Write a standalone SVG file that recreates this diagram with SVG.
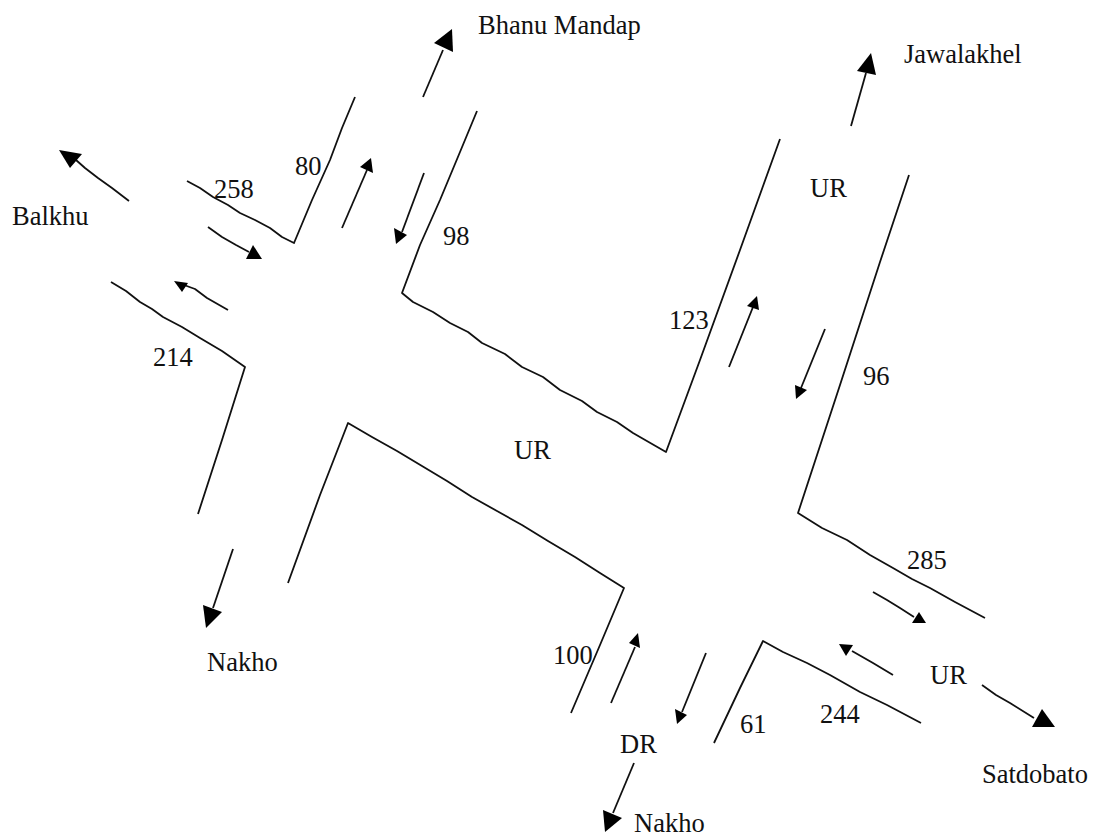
<svg xmlns="http://www.w3.org/2000/svg" width="1094" height="838" viewBox="0 0 1094 838">
<style>
.r{fill:none;stroke:#111;stroke-width:1.8;stroke-linejoin:round}
.a{fill:none;stroke:#111;stroke-width:1.8;stroke-linejoin:round}
.h{fill:#000}
text{font-family:"Liberation Serif","Times New Roman",serif;font-size:26.5px;fill:#111}
</style>
<rect width="1094" height="838" fill="#fff"/>
<g id="roads">
<path class="r" d="M187 181L200 188L213 197L228 205L240 213L255 220L270 228L282 237L294 243L312 200L330 160L342 128L355 97"/>
<path class="r" d="M477 111L460 152L440 200L420 245L402 293L413 302L433 312L450 323L468 332L482 343L505 354L522 367L543 377L560 390L582 401L597 412L617 422L633 433L666 452L700 360L740 250L780 139"/>
<path class="r" d="M909 175L880 262L840 385L798 513L822 528L847 540L870 555L893 568L912 579L930 588L955 602L985 618"/>
<path class="r" d="M111 282L126 291L140 302L152 309L163 317L182 327L200 338L222 351L245 367L222 440L198 514"/>
<path class="r" d="M288 583L320 495L348 423L372 437L397 451L422 466L447 481L472 497L497 511L522 525L548 541L575 557L600 573L624 588L600 645L571 713"/>
<path class="r" d="M714 743L740 688L763 641L783 652L807 663L830 675L860 692L887 705L921 723"/>
</g>
<g id="connectors">
<path class="a" d="M129 201L112 188L98 178L85 168L76 160"/><polygon class="h" points="59,150 82,154 70,168"/>
<path class="a" d="M208 227L222 237L236 245L249 252"/><polygon class="h" points="253,245 262,259 246,259"/>
<path class="a" d="M228 310L207 298L195 289L184 285"/><polygon class="h" points="174,281 188,283 182,292"/>
<path class="a" d="M342 228L367 170"/><polygon class="h" points="371,158 360,167 373,173"/>
<path class="a" d="M424 173L402 232"/><polygon class="h" points="394,228 407,235 396,244"/>
<path class="a" d="M423 97L443 50"/><polygon class="h" points="452,29 434,43 453,52"/>
<path class="a" d="M851 126L866 73"/><polygon class="h" points="871,53 857,71 876,75"/>
<path class="a" d="M729 367L753 307"/><polygon class="h" points="757,296 747,306 759,310"/>
<path class="a" d="M825 329L801 388"/><polygon class="h" points="795,385 807,390 796,399"/>
<path class="a" d="M233 549L213 608"/><polygon class="h" points="203,605 222,612 206,628"/>
<path class="a" d="M611 703L635 647"/><polygon class="h" points="638,633 629,643 640,648"/>
<path class="a" d="M706 653L682 712"/><polygon class="h" points="675,709 687,715 677,724"/>
<path class="a" d="M634 763L613 813"/><polygon class="h" points="603,810 622,818 605,832"/>
<path class="a" d="M873 592L887 600L900 608L914 617"/><polygon class="h" points="919,612 926,623 912,623"/>
<path class="a" d="M893 675L873 663L852 651"/><polygon class="h" points="839,644 853,645 846,656"/>
<path class="a" d="M982 685L996 695L1010 703L1034 718"/><polygon class="h" points="1042,709 1055,727 1032,727"/>
</g>
<g id="labels">
<text x="478" y="34">Bhanu Mandap</text>
<text x="904" y="63">Jawalakhel</text>
<text x="12" y="225">Balkhu</text>
<text x="207" y="671">Nakho</text>
<text x="634" y="832">Nakho</text>
<text x="982" y="783">Satdobato</text>
<text x="214" y="198">258</text>
<text x="295" y="175">80</text>
<text x="443" y="245">98</text>
<text x="153" y="366">214</text>
<text x="669" y="329">123</text>
<text x="863" y="385">96</text>
<text x="810" y="197">UR</text>
<text x="514" y="459">UR</text>
<text x="907" y="569">285</text>
<text x="930" y="684">UR</text>
<text x="553" y="664">100</text>
<text x="620" y="753">DR</text>
<text x="740" y="733">61</text>
<text x="820" y="723">244</text>
</g>
</svg>
